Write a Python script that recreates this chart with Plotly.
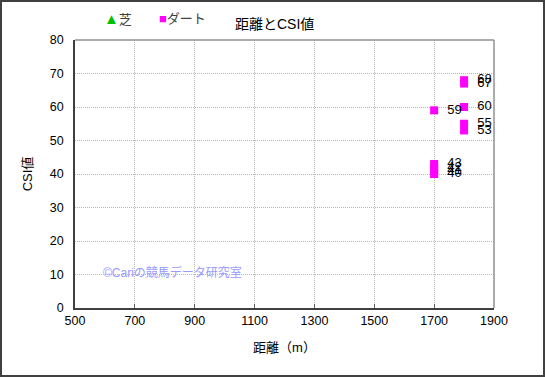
import plotly.graph_objects as go

# Data
turf_x = []
turf_y = []
dirt_x = [1700, 1700, 1700, 1700, 1700, 1800, 1800, 1800, 1800, 1800]
dirt_y = [59, 43, 42, 41, 40, 68, 67, 60, 55, 53]
x_ticks = [500, 700, 900, 1100, 1300, 1500, 1700, 1900]
y_ticks = [0, 10, 20, 30, 40, 50, 60, 70, 80]

FONT = "Liberation Sans, Noto Sans CJK JP, sans-serif"

fig = go.Figure()
fig.add_trace(go.Scatter(
    x=turf_x if turf_x else [None], y=turf_y if turf_y else [None],
    mode="markers", name="芝", showlegend=False,
    marker=dict(symbol="triangle-up", color="#00cc00", size=9),
))
fig.add_trace(go.Scatter(
    x=dirt_x, y=dirt_y, mode="markers+text", name="ダート", showlegend=False,
    text=["  " + str(v) for v in dirt_y], textposition="middle right",
    textfont=dict(family=FONT, size=13, color="#000000"),
    marker=dict(symbol="square", color="#ff00ff", size=8),
))

W, H = 545, 377
L, R, T, B = 75, 51, 40, 69
pw, ph = W - L - R, H - T - B

def px(xp):
    return (xp - L) / pw

def py(yp):
    return (T + ph - yp) / ph

fig.update_layout(
    width=W, height=H,
    margin=dict(l=L, r=R, t=T, b=B, autoexpand=False),
    paper_bgcolor="white", plot_bgcolor="white",
    font=dict(family=FONT, size=12, color="#000000"),
    showlegend=False,
    xaxis=dict(range=[500, 1900], tickvals=x_ticks, ticks="inside", ticklen=4,
               tickcolor="#606060",
               showgrid=True, gridcolor="#b8b8b8", griddash="1px,1px", gridwidth=1,
               showline=True, linecolor="#404040", linewidth=1.5, mirror=False,
               zeroline=False,
               title=dict(text="距離（m）", font=dict(size=13), standoff=16),
               tickfont=dict(size=12.5)),
    yaxis=dict(range=[0, 80], tickvals=y_ticks, ticks="outside", ticklen=7,
               tickcolor="rgba(0,0,0,0)",
               showgrid=True, gridcolor="#b8b8b8", griddash="1px,1px", gridwidth=1,
               showline=True, linecolor="#404040", linewidth=1.5, mirror=False,
               zeroline=False,
               title=dict(text="CSI値", font=dict(size=13), standoff=14),
               tickfont=dict(size=12.5)),
    shapes=[
        dict(type="line", xref="paper", yref="paper", x0=0, x1=1, y0=1, y1=1,
             line=dict(color="#909090", width=1.5)),
        dict(type="line", xref="paper", yref="paper", x0=1, x1=1, y0=0, y1=1,
             line=dict(color="#909090", width=1.5)),
        dict(type="rect", xref="paper", yref="paper",
             x0=px(1), x1=px(W - 1), y0=py(H - 1), y1=py(1),
             line=dict(color="#404040", width=2), layer="above"),
    ],
    annotations=[
        dict(text="距離とCSI値", xref="paper", yref="paper", x=px(274), y=py(24),
             xanchor="center", yanchor="middle", showarrow=False,
             font=dict(size=14, color="#000000")),
        dict(text='<span style="color:#00c000;font-size:15px">▲</span>芝',
             xref="paper", yref="paper",
             x=px(102), y=py(19), xanchor="left", yanchor="middle", showarrow=False,
             font=dict(size=13, color="#404040")),
        dict(text='<span style="color:#ff00ff">■</span>ダート', xref="paper", yref="paper",
             x=px(157), y=py(19), xanchor="left", yanchor="middle", showarrow=False,
             font=dict(size=13, color="#404040")),
        dict(text="©Cariの競馬データ研究室", xref="paper", yref="paper",
             x=px(101), y=py(272), xanchor="left", yanchor="middle", showarrow=False,
             font=dict(size=12, color="#9999ff")),
    ],
)

fig.write_html("out.html", config={"displayModeBar": False},
               post_script="document.body.style.margin='0px';")
